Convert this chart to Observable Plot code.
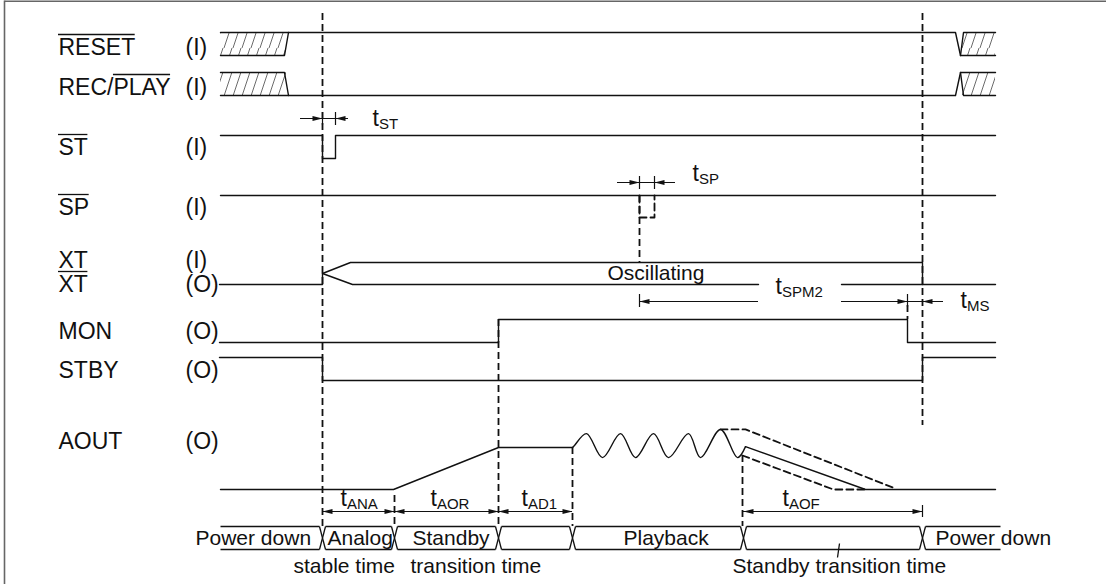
<!DOCTYPE html>
<html><head><meta charset="utf-8">
<script src="https://cdn.jsdelivr.net/npm/d3@7"></script>
<script src="https://cdn.jsdelivr.net/npm/@observablehq/plot@0.6"></script>
<style>body{margin:0;background:#fff}svg{display:block}</style>
</head><body><div id="chart"></div>
<script>
// ================= DATA =================
// Waveforms: [time, level] (level 0 = low, 1 = high; AOUT in relative amplitude)
const RESET   = [[[220,1],[955,1],[960,0],[995,0]], [[220,0],[284,0],[288,1]], [[960,0],[963,1],[995,1]]];
const RECPLAY = [[[220,1],[284,1],[288,0]], [[220,0],[955,0],[960,1],[995,1]], [[960,1],[963,0],[995,0]]];
const ST      = [[[220,1],[322,1],[322,0],[335,0],[335,1],[995,1]]];
const SP      = [[[220,1],[995,1]]];
const SP_PULSE= [[[639,1],[639,0],[654,0],[654,1]]];
const XT      = [[[219,0],[322,0],[322,0.5]], [[322,0.5],[350,1],[922,1],[922,0]], [[322,0.5],[352,0],[758,0]], [[841,0],[995,0]]];
const MON     = [[[219,0],[498,0],[498,1],[907,1],[907,0],[995,0]]];
const STBY    = [[[219,1],[322,1],[322,0],[922,0],[922,1],[995,1]]];
const AOUT    = [[[220,0],[393,0],[498,1],[572,1]], [[745,1.02],[865,0],[995,0]]];
const AOUT_WAVE = [[572,1],[574,1.05],[586,1.33],[602,0.76],[620,1.33],[635,0.76],[653,1.33],[668,0.76],[688,1.33],[700,0.76],[720,1.43],[737,0.76],[745,1.02]];
const AOUT_ENVELOPE = [[[720,1.43],[745,1.43],[892,0.05]], [[742,0.81],[833,0],[865,0]]];
const hatchSpans = [[220,286],[961,995]];

// Bus (operating state) transitions and labels
const busTransitions = [322, 394, 498, 572, 743, 922];
const busRange = [220, 1000];
const busLabels = ["Power down", "Analog", "Standby", "", "Playback", "", "Power down"];
const busNotes = ["stable time", "transition time", "Standby transition time"];

// Pin names and directions
const pinNames = ["RESET", "REC/PLAY", "ST", "SP", "XT", "XT", "MON", "STBY", "AOUT"];
const pinDirs  = ["(I)", "(I)", "(I)", "(I)", "(I)", "(O)", "(O)", "(O)", "(O)"];
const pinOverline = [[0,5], [4,8], [0,2], [0,2], null, [0,2], null, null, null];

// Timing parameter names
const timingNames = ["ST", "SP", "SPM2", "MS", "ANA", "AOR", "AD1", "AOF"];

// ================= LAYOUT =================
const rows = {
  RESET:[32,55], RECPLAY:[72,95], ST:[135,158], SP:[195,217], XT:[262,284],
  MON:[319,342], STBY:[357,380], AOUT:[447,489]
};
const BUS = {top:526, bot:549};
const FONT = "'Liberation Sans', Arial, Helvetica, sans-serif";
const FS = 21, FSP = 23, FST = 23, FSS = 15;
const INK = "#111";

function toPts(sig, rowKey, id) {
  const [hi, lo] = rows[rowKey];
  const out = [];
  sig.forEach((poly, i) => poly.forEach(([t, v]) => out.push({x: t, y: lo - v * (lo - hi), z: id + i})));
  return out;
}
const solid = [
  ...toPts(RESET, "RESET", "r"), ...toPts(RECPLAY, "RECPLAY", "rp"), ...toPts(ST, "ST", "st"),
  ...toPts(SP, "SP", "sp"), ...toPts(XT, "XT", "xt"), ...toPts(MON, "MON", "mon"),
  ...toPts(STBY, "STBY", "stby"), ...toPts(AOUT, "AOUT", "ao")
];
const wave = toPts([AOUT_WAVE], "AOUT", "w");
const dashedPolys = [...toPts(SP_PULSE, "SP", "spp"), ...toPts(AOUT_ENVELOPE, "AOUT", "env")];

const hatch = [];
hatchSpans.forEach(([a, b]) => ["RESET", "RECPLAY"].forEach(k => hatch.push({x1: a, x2: b, y1: rows[k][0], y2: rows[k][1]})));

// dashed vertical guides
const guides = [
  {x: 322, y1: 13, y2: BUS.top}, {x: 922, y1: 13, y2: 425},
  {x: 498, y1: rows.MON[0], y2: BUS.top}, {x: 572, y1: rows.AOUT[0], y2: BUS.top},
  {x: 742, y1: 455, y2: BUS.top}, {x: 394, y1: 495, y2: BUS.top},
  {x: 639, y1: rows.SP[0], y2: rows.XT[0]}, {x: 907, y1: 305, y2: rows.MON[0]}
];

// dimension lines
const dimY = {ST:118, SP:182, SPM2:301, ANA:511};
const dimSegs = [
  {x1:300, x2:348, y:dimY.ST}, {x1:617, x2:675, y:dimY.SP},
  {x1:639, x2:758, y:dimY.SPM2}, {x1:841, x2:943, y:dimY.SPM2},
  {x1:322, x2:572, y:dimY.ANA}, {x1:743, x2:922, y:dimY.ANA}
];
const headsR = [{x:322,y:dimY.ST},{x:639,y:dimY.SP},{x:907,y:dimY.SPM2},{x:394,y:dimY.ANA},{x:498,y:dimY.ANA},{x:572,y:dimY.ANA},{x:922,y:dimY.ANA}];
const headsL = [{x:335,y:dimY.ST},{x:654,y:dimY.SP},{x:639,y:dimY.SPM2},{x:922,y:dimY.SPM2},{x:322,y:dimY.ANA},{x:394,y:dimY.ANA},{x:498,y:dimY.ANA},{x:743,y:dimY.ANA}];
const ticks = [
  {x:322,y1:112,y2:125},{x:335,y1:112,y2:125},{x:639,y1:176,y2:189},{x:654,y1:176,y2:189},
  {x:639,y1:294,y2:307},{x:907,y1:294,y2:307},{x:922,y1:505,y2:517}
];

// bus geometry
const busLines = [];
const bounds = [busRange[0], ...busTransitions, busRange[1]];
for (let i = 0; i < bounds.length - 1; i++) {
  const a = i === 0 ? bounds[i] : bounds[i] + 3, b = i === bounds.length - 2 ? bounds[i + 1] : bounds[i + 1] - 3;
  busLines.push({x1:a, x2:b, y1:BUS.top, y2:BUS.top}, {x1:a, x2:b, y1:BUS.bot, y2:BUS.bot});
}
busTransitions.forEach(t => {
  busLines.push({x1:t-3, x2:t+3, y1:BUS.top, y2:BUS.bot}, {x1:t-3, x2:t+3, y1:BUS.bot, y2:BUS.top});
});
busLines.push({x1:839, x2:837, y1:543, y2:557}); // leader
const busLabelPos = [195, 327, 412, null, 623, null, 935];
const busTexts = busLabels.map((s, i) => ({text:s, x:busLabelPos[i], y:544})).filter(d => d.text);
const noteTexts = busNotes.map((s, i) => ({text:s, x:[293, 410, 732][i], y:572}));

// text measurement for overlines / subscripts
const cvs = document.createElement("canvas").getContext("2d");
const mw = (s, size) => { cvs.font = `${size}px "Liberation Sans"`; return cvs.measureText(s).width; };

const pinY = [54, 94, 154, 214, 267, 291, 338, 377, 448];
const pinTexts = pinNames.map((s, i) => ({text:s, x:58, y:pinY[i]}));
const dirTexts = pinDirs.map((s, i) => ({text:s, x:185, y:pinY[i]}));
const overlines = [];
pinOverline.forEach((o, i) => { if (o) overlines.push({x1:58 + mw(pinNames[i].slice(0, o[0]), FSP), x2:58 + mw(pinNames[i].slice(0, o[1]), FSP), y:pinY[i] - 20}); });

const tPos = [[372,125],[692,180],[775,293],[960,307],[340,505],[430,505],[521,505],[782,505]];
const tMain = timingNames.map((s, i) => ({text:"t", x:tPos[i][0], y:tPos[i][1]}));
const tSub  = timingNames.map((s, i) => ({text:s, x:tPos[i][0] + mw("t", FST), y:tPos[i][1] + 3}));
const misc = [{text:"Oscillating", x:607, y:279}];

const frame = [{x1:4, x2:1106, y1:0.8, y2:0.8}, {x1:4, x2:4, y1:0, y2:584}];

const arrowR = {draw(c){c.moveTo(0,0);c.lineTo(-10,-2.6);c.lineTo(-10,2.6);c.closePath();}};
const arrowL = {draw(c){c.moveTo(0,0);c.lineTo(10,-2.6);c.lineTo(10,2.6);c.closePath();}};

const txt = (data, opts = {}) => Plot.text(data, {x:"x", y:"y", text:"text", textAnchor:"start", lineAnchor:"bottom", fontSize:FS, fill:INK, ...opts});

const chart = Plot.plot({
  width:1106, height:584, margin:0,
  x:{domain:[0,1106], range:[0,1106], axis:null},
  y:{domain:[0,584], range:[0,584], axis:null},
  style:{fontFamily:FONT, background:"#fff"},
  marks:[
    Plot.rect(hatch, {x1:"x1", x2:"x2", y1:"y1", y2:"y2", fill:"url(#hatch)"}),
    Plot.link(frame, {x1:"x1", x2:"x2", y1:"y1", y2:"y2", stroke:"#666", strokeWidth:1.6}),
    Plot.line(solid, {x:"x", y:"y", z:"z", stroke:INK, strokeWidth:1.4}),
    Plot.line(wave, {x:"x", y:"y", curve:"catmull-rom", stroke:INK, strokeWidth:1.4}),
    Plot.line(dashedPolys, {x:"x", y:"y", z:"z", stroke:INK, strokeWidth:1.8, strokeDasharray:"7,4"}),
    Plot.ruleX(guides, {x:"x", y1:"y1", y2:"y2", stroke:INK, strokeWidth:1.8, strokeDasharray:"7,4"}),
    Plot.ruleY(dimSegs, {y:"y", x1:"x1", x2:"x2", stroke:INK, strokeWidth:1}),
    Plot.ruleX(ticks, {x:"x", y1:"y1", y2:"y2", stroke:INK, strokeWidth:1.2}),
    Plot.dot(headsR, {x:"x", y:"y", symbol:arrowR, fill:INK, stroke:"none"}),
    Plot.dot(headsL, {x:"x", y:"y", symbol:arrowL, fill:INK, stroke:"none"}),
    Plot.link(busLines, {x1:"x1", x2:"x2", y1:"y1", y2:"y2", stroke:INK, strokeWidth:1.3}),
    Plot.ruleY(overlines, {y:"y", x1:"x1", x2:"x2", stroke:INK, strokeWidth:1.3}),
    txt(pinTexts, {fontSize:FSP}), txt(dirTexts, {fontSize:FSP}), txt(busTexts), txt(noteTexts), txt(misc),
    txt(tMain, {fontSize:FST}), txt(tSub, {fontSize:FSS})
  ]
});
const ns = "http://www.w3.org/2000/svg";
const defs = document.createElementNS(ns, "defs");
defs.innerHTML = `<pattern id="hatch" patternUnits="userSpaceOnUse" width="9" height="24"><path d="M-1,24L7,0M8,24L16,0M-10,24L-2,0" stroke="#444" stroke-width="0.8" fill="none"/></pattern>`;
chart.insertBefore(defs, chart.firstChild);
document.getElementById("chart").appendChild(chart);
</script></body></html>
